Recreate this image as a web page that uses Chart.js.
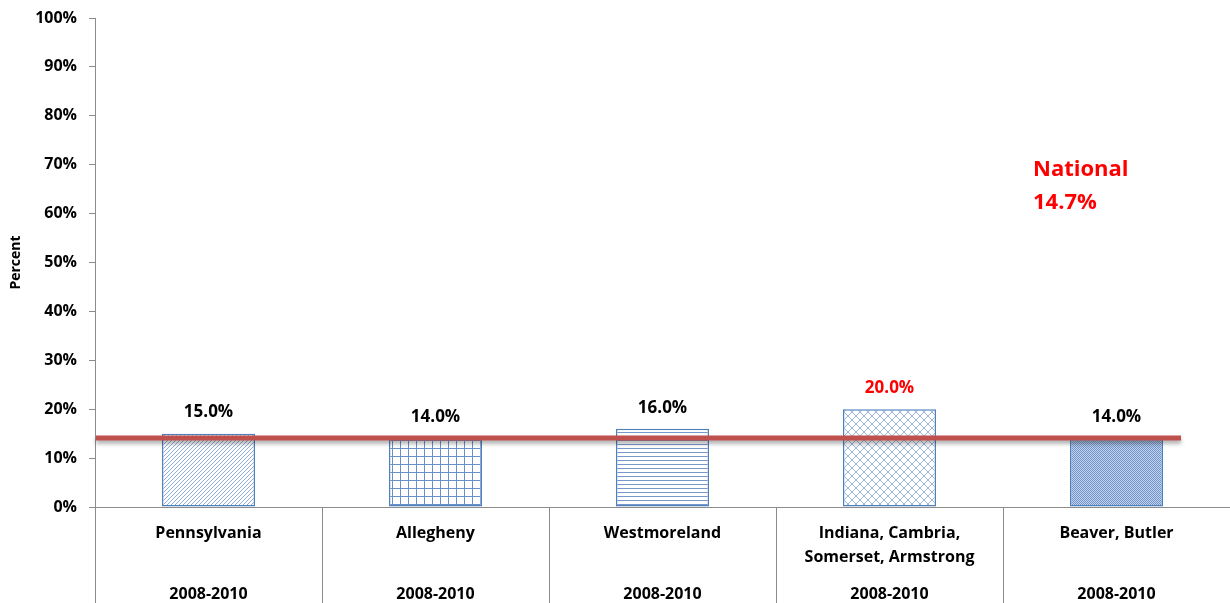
<!DOCTYPE html>
<html>
<head>
<meta charset="utf-8">
<script src="https://cdn.jsdelivr.net/npm/chart.js@4"></script>
<style>
  html, body { margin: 0; padding: 0; background: #fff; }
  #wrap { width: 1230px; height: 603px; }
</style>
</head>
<body>
<div id="wrap"><canvas id="chart" width="1230" height="603"></canvas></div>
<script>
// data
const regions   = [['Pennsylvania'], ['Allegheny'], ['Westmoreland'], ['Indiana, Cambria,', 'Somerset, Armstrong'], ['Beaver, Butler']];
const periods   = ['2008-2010', '2008-2010', '2008-2010', '2008-2010', '2008-2010'];
const values    = [15.0, 14.0, 16.0, 20.0, 14.0];
const labelRed  = [false, false, false, true, false];
const nationalText  = ['National', '14.7%'];
const nationalLevel = [14.1]; // where the red line sits in the picture
const yTicks    = [0, 10, 20, 30, 40, 50, 60, 70, 80, 90, 100];

const FONT = '"Open Sans", Lato, sans-serif';
const BLUE = '#4F81BD';

function tile(w, h, draw) {
    const c = document.createElement('canvas');
    c.width = w; c.height = h;
    const g = c.getContext('2d');
    g.fillStyle = '#fff';
    g.fillRect(0, 0, w, h);
    draw(g);
    return document.getElementById('chart').getContext('2d').createPattern(c, 'repeat');
}

// fill patterns for each bar, drawn pixel by pixel
const patterns = [
    tile(4, 4, g => {           // up-right diagonal
        g.fillStyle = '#8FACDA';
        for (let i = 0; i < 4; i++) g.fillRect(3 - i, i, 1, 1);
    }),
    tile(8, 8, g => {           // grid
        g.fillStyle = '#6A90C8';
        g.fillRect(0, 0, 8, 1);
        g.fillRect(0, 0, 1, 8);
    }),
    tile(4, 4, g => {           // horizontal lines
        g.fillStyle = '#7898CC';
        g.fillRect(0, 0, 4, 1);
    }),
    tile(8, 8, g => {           // diagonal cross
        g.fillStyle = '#9CB5DD';
        for (let i = 0; i < 8; i++) {
            g.fillRect(i, i, 1, 1);
            g.fillRect(7 - i, i, 1, 1);
        }
    }),
    tile(2, 2, g => {           // dense dots
        g.fillStyle = '#7496CB';
        g.fillRect(0, 0, 1, 1);
        g.fillRect(1, 1, 1, 1);
        g.fillStyle = '#BFD0EA';
        g.fillRect(1, 0, 1, 1);
        g.fillRect(0, 1, 1, 1);
    })
];

const overlay = {
    id: 'overlay',
    afterDatasetsDraw(chart) {
        const ctx = chart.ctx;
        const x = chart.scales.x, y = chart.scales.y;
        const area = chart.chartArea;

        // national line with a soft shadow
        const ly = y.getPixelForValue(nationalLevel[0]);
        const lastBar = chart.getDatasetMeta(0).data[values.length - 1];
        ctx.save();
        ctx.shadowColor = 'rgba(0,0,0,0.35)';
        ctx.shadowBlur = 4;
        ctx.shadowOffsetY = 3;
        ctx.strokeStyle = '#C0504D';
        ctx.lineWidth = 5;
        ctx.beginPath();
        ctx.moveTo(area.left + 1, ly);
        ctx.lineTo(lastBar.x + lastBar.width / 2 + 18, ly);
        ctx.stroke();
        ctx.restore();

        // value labels
        ctx.save();
        ctx.font = 'bold 17px ' + FONT;
        ctx.textAlign = 'center';
        ctx.textBaseline = 'middle';
        chart.getDatasetMeta(0).data.forEach((bar, i) => {
            ctx.fillStyle = labelRed[i] ? '#FF0000' : '#000';
            ctx.fillText(values[i].toFixed(1) + '%', bar.x, bar.y - 21);
        });

        // category labels under the axis
        ctx.fillStyle = '#000';
        ctx.font = 'bold 16px ' + FONT;
        regions.forEach((lines, i) => {
            const cx = x.getPixelForValue(i);
            lines.forEach((t, k) => ctx.fillText(t, cx, area.bottom + 26 + k * 24));
            ctx.fillText(periods[i], cx, area.bottom + 87);
        });

        // national note
        ctx.fillStyle = '#FF0000';
        ctx.font = 'bold 22px ' + FONT;
        ctx.textAlign = 'left';
        ctx.fillText(nationalText[0], 1033, 170);
        ctx.fillText(nationalText[1], 1033, 203);
        ctx.restore();
    }
};

new Chart(document.getElementById('chart'), {
    type: 'bar',
    data: {
        labels: regions.map(r => r.join(' ')),
        datasets: [{
            data: values,
            backgroundColor: patterns,
            borderColor: BLUE,
            borderWidth: 1.5,
            borderSkipped: false,
            categoryPercentage: 1,
            barPercentage: 0.41
        }]
    },
    options: {
        responsive: false,
        animation: false,
        layout: { padding: { top: 18, right: 0, left: 0 } },
        plugins: { legend: { display: false }, tooltip: { enabled: false } },
        scales: {
            x: {
                offset: true,
                grid: { drawOnChartArea: false, tickLength: 96, color: '#8C8C8C', offset: true },
                border: { color: '#8C8C8C' },
                ticks: { display: false }
            },
            y: {
                min: 0, max: 100,
                afterBuildTicks: s => { s.ticks = yTicks.map(v => ({ value: v })); },
                afterFit: s => { s.width = 95; s.paddingTop = 0; },
                grid: { drawOnChartArea: false, tickLength: 6, color: '#8C8C8C' },
                border: { color: '#8C8C8C' },
                ticks: {
                    color: '#000',
                    padding: 12,
                    font: { family: FONT, size: 16, weight: 'bold' },
                    callback: v => v + '%'
                },
                title: {
                    display: true,
                    text: 'Percent',
                    color: '#000',
                    padding: { top: 8, bottom: 4 },
                    font: { family: FONT, size: 14, weight: 'bold' }
                }
            }
        }
    },
    plugins: [overlay]
});
</script>
</body>
</html>
